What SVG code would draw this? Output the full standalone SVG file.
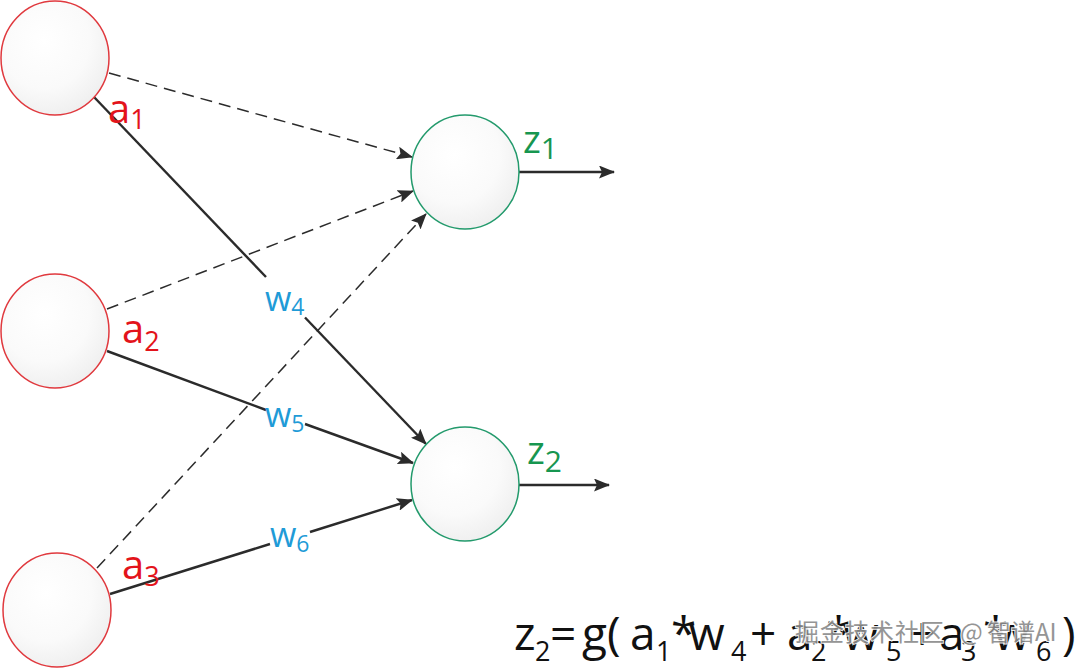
<svg xmlns="http://www.w3.org/2000/svg" width="1080" height="671" viewBox="0 0 1080 671">
<defs>
  <radialGradient id="fillg" cx="40%" cy="35%" r="70%">
    <stop offset="0" stop-color="#ffffff"/>
    <stop offset="0.6" stop-color="#fafafa"/>
    <stop offset="1" stop-color="#eeeeee"/>
  </radialGradient>
  <marker id="arr" markerUnits="userSpaceOnUse" markerWidth="16" markerHeight="13" viewBox="0 0 16 13" refX="15" refY="6.5" orient="auto">
    <path d="M0,0 L16,6.5 L0,13 L3,6.5 Z" fill="#2b2b2b"/>
  </marker>
  <style>
    .in { fill: url(#fillg); stroke: #e0393e; stroke-width: 1.5; }
    .out { fill: url(#fillg); stroke: #239a6c; stroke-width: 1.5; }
    .ln { fill: none; stroke: #2b2b2b; stroke-width: 2.4; }
    .dash { fill: none; stroke: #2b2b2b; stroke-width: 1.5; stroke-dasharray: 12 7; }
    .t { font-family: "Open Sans", "Noto Sans", sans-serif; }
    .red { fill: #e3131b; }
    .green { fill: #179650; }
    .blue { fill: #1f9bd7; }
    .blk { fill: #111111; }
    .wm { font-family: "Noto Sans CJK SC", "Noto Sans", sans-serif; fill: #8a8a8a; stroke: #ffffff; stroke-width: 2; paint-order: stroke; opacity: 0.9; }
  </style>
</defs>
<rect width="1080" height="671" fill="#ffffff"/>

<g id="connectors">
  <line class="dash" x1="109" y1="73" x2="412" y2="157" marker-end="url(#arr)"/>
  <line class="dash" x1="107" y1="309" x2="413" y2="191" marker-end="url(#arr)"/>
  <line class="dash" x1="97" y1="568" x2="426" y2="214" marker-end="url(#arr)"/>
  <line class="ln" x1="94" y1="97" x2="266" y2="277"/>
  <line class="ln" x1="305" y1="317.5" x2="426" y2="444" marker-end="url(#arr)"/>
  <line class="ln" x1="107" y1="351" x2="266" y2="410"/>
  <line class="ln" x1="305" y1="424" x2="413" y2="463" marker-end="url(#arr)"/>
  <line class="ln" x1="110" y1="594" x2="270" y2="544"/>
  <line class="ln" x1="310" y1="532" x2="412" y2="500" marker-end="url(#arr)"/>
  <line class="ln" x1="519" y1="172" x2="614" y2="172" marker-end="url(#arr)"/>
  <line class="ln" x1="519" y1="485" x2="609" y2="485" marker-end="url(#arr)"/>
</g>

<g id="node-a1">
  <ellipse class="in" cx="55" cy="58" rx="54" ry="57"/>
  <text class="t red" x="108" y="123" font-size="40">a<tspan font-size="27" dy="6">1</tspan></text>
</g>
<g id="node-a2">
  <ellipse class="in" cx="55" cy="331" rx="54" ry="57"/>
  <text class="t red" x="122" y="343" font-size="40">a<tspan font-size="27" dy="8">2</tspan></text>
</g>
<g id="node-a3">
  <ellipse class="in" cx="57" cy="610" rx="54" ry="57"/>
  <text class="t red" x="122" y="579" font-size="40">a<tspan font-size="27" dy="7">3</tspan></text>
</g>
<g id="node-z1">
  <ellipse class="out" cx="465" cy="172" rx="54" ry="57"/>
  <text class="t green" x="523" y="153" font-size="38">z<tspan font-size="30" dy="6">1</tspan></text>
</g>
<g id="node-z2">
  <ellipse class="out" cx="465" cy="484" rx="54" ry="57"/>
  <text class="t green" x="527" y="464" font-size="38">z<tspan font-size="30" dy="8">2</tspan></text>
</g>

<g id="weights">
  <text class="t blue" x="265" y="311" font-size="34">w<tspan font-size="23" dy="4">4</tspan></text>
  <text class="t blue" x="265" y="427" font-size="34">w<tspan font-size="23" dy="5">5</tspan></text>
  <text class="t blue" x="270" y="547" font-size="34">w<tspan font-size="23" dy="5">6</tspan></text>
</g>

<g id="formula">
  <text class="t blk" y="650" font-size="46"><tspan x="514">z</tspan><tspan x="535" y="661" font-size="27">2</tspan><tspan x="550" y="650">=</tspan><tspan x="582">g(</tspan><tspan x="630">a</tspan><tspan x="656" y="661" font-size="27">1</tspan><tspan x="671" y="650">*</tspan><tspan x="689">w</tspan><tspan x="731" y="661" font-size="27">4</tspan><tspan x="750" y="650">+</tspan><tspan x="787">a</tspan><tspan x="811" y="661" font-size="27">2</tspan><tspan x="826" y="650">*</tspan><tspan x="843">w</tspan><tspan x="886" y="661" font-size="27">5</tspan><tspan x="909" y="650">+</tspan><tspan x="939">a</tspan><tspan x="961" y="661" font-size="27">3</tspan><tspan x="983" y="650">*</tspan><tspan x="994">w</tspan><tspan x="1036" y="661" font-size="27">6</tspan><tspan x="1062" y="650">)</tspan></text>
  <text class="wm" y="641" font-size="24"><tspan x="795" letter-spacing="1">掘金技术社区</tspan><tspan x="960">@</tspan><tspan x="987">智谱AI</tspan></text>
</g>
</svg>
